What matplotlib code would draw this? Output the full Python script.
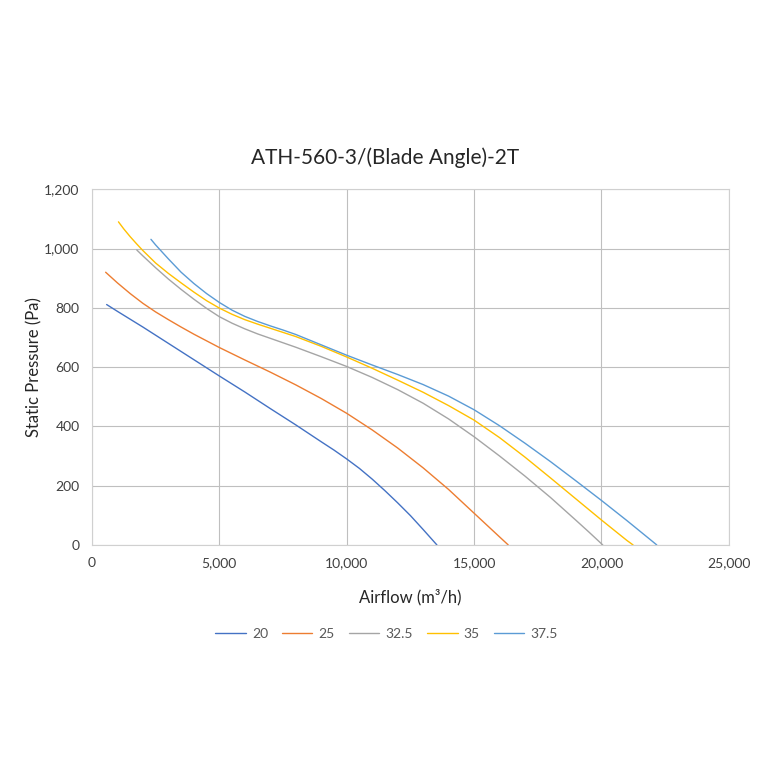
import matplotlib
matplotlib.use("Agg")
import matplotlib.pyplot as plt
from matplotlib.ticker import FuncFormatter, MultipleLocator

plt.rcParams['font.family'] = ['Lato', 'DejaVu Sans']

title = "ATH-560-3/(Blade Angle)-2T"
series_names = ["20", "25", "32.5", "35", "37.5"]
colors = ["#4472C4", "#ED7D31", "#A5A5A5", "#FFC000", "#5B9BD5"]

x20 = [576, 1000, 2000, 3000, 4000, 5000, 6000, 7000, 8000, 9000, 9500, 10000, 10500, 11000, 11500, 12000, 12500, 13000, 13540]
y20 = [811, 788, 735, 680, 625, 570, 516, 460, 405, 348, 320, 290, 258, 222, 183, 142, 99, 52, 0]

x25 = [537, 1000, 1500, 2000, 2500, 3000, 3500, 4000, 5000, 6000, 7000, 8000, 9000, 10000, 11000, 12000, 13000, 14000, 15000, 15500, 16000, 16340]
y25 = [920, 884, 848, 815, 786, 760, 735, 711, 666, 624, 583, 540, 494, 444, 388, 327, 260, 187, 107, 67, 27, 0]

x325 = [1760, 2000, 2500, 3000, 3500, 4000, 4500, 5000, 5500, 6000, 6500, 7000, 7500, 8000, 9000, 10000, 11000, 12000, 13000, 14000, 15000, 16000, 17000, 18000, 19000, 19500, 20050]
y325 = [995, 975, 935, 897, 862, 829, 798, 770, 748, 729, 712, 697, 682, 667, 635, 602, 565, 524, 478, 425, 365, 300, 232, 160, 83, 44, 0]

x35 = [1040, 1250, 1500, 1750, 2000, 2500, 3000, 3500, 4000, 4500, 5000, 5500, 6000, 6500, 7000, 7500, 8000, 9000, 10000, 11000, 12000, 13000, 14000, 15000, 16000, 17000, 18000, 19000, 20000, 21000, 21240]
y35 = [1090, 1066, 1040, 1016, 993, 951, 916, 884, 853, 824, 799, 778, 760, 745, 731, 717, 703, 670, 634, 596, 556, 515, 470, 421, 362, 296, 226, 155, 84, 15, 0]

x375 = [2316, 2500, 3000, 3500, 4000, 4500, 5000, 5500, 6000, 6500, 7000, 7500, 8000, 9000, 10000, 11000, 12000, 13000, 14000, 15000, 16000, 17000, 18000, 19000, 20000, 21000, 22000, 22170]
y375 = [1031, 1012, 965, 920, 882, 848, 818, 792, 771, 754, 739, 725, 710, 675, 640, 607, 575, 541, 502, 456, 402, 343, 281, 216, 150, 82, 12, 0]

xs = [x20, x25, x325, x35, x375]
ys = [y20, y25, y325, y35, y375]

fig = plt.figure(figsize=(7.6, 7.6), dpi=100)
ax = fig.add_axes([0.121, 0.283, 0.838, 0.468])

for x, y, c, n in zip(xs, ys, colors, series_names):
    ax.plot(x, y, color=c, lw=1.0, label=n, solid_capstyle='round', solid_joinstyle='round')

ax.set_xlim(0, 25000)
ax.set_ylim(0, 1200)
ax.xaxis.set_major_locator(MultipleLocator(5000))
ax.yaxis.set_major_locator(MultipleLocator(200))
ax.xaxis.set_major_formatter(FuncFormatter(lambda v, p: f"{int(v):,}"))
ax.yaxis.set_major_formatter(FuncFormatter(lambda v, p: f"{int(v):,}"))
ax.grid(True, color="#BFBFBF", lw=0.8)
ax.set_axisbelow(True)
for s in ax.spines.values():
    s.set_color("#D0D0D0")
    s.set_linewidth(0.8)
ax.tick_params(axis='x', length=0, labelsize=10, colors="#404040", pad=9)
ax.tick_params(axis='y', length=0, labelsize=10, colors="#404040", pad=9)

ax.set_xlabel("Airflow (m³/h)", fontsize=12, color="#262626", labelpad=14)
ax.set_ylabel("Static Pressure (Pa)", fontsize=12, color="#262626", labelpad=1)
fig.text(0.507, 0.793, title, fontsize=15, color="#262626", ha='center', va='center')

fig.legend(loc='center', bbox_to_anchor=(0.5086, 0.166), ncol=5, frameon=False,
           fontsize=10, handlelength=2.2, columnspacing=1.0, handletextpad=0.45,
           labelcolor="#595959")

fig.savefig("out.png", dpi=100)
